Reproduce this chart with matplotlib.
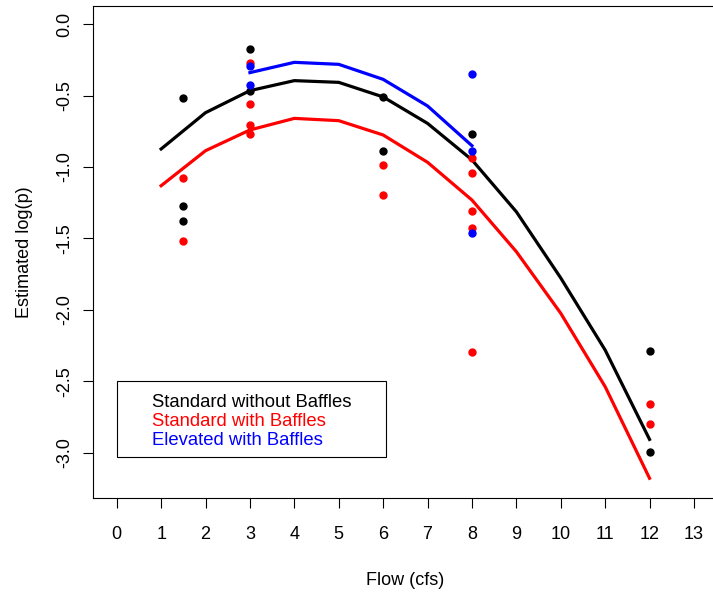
import matplotlib
matplotlib.use("Agg")
import matplotlib.pyplot as plt
from matplotlib.patches import Rectangle

plt.rcParams['font.family'] = ['Liberation Sans', 'DejaVu Sans']

# fitted curves
flow_fit = [1, 2, 3, 4, 5, 6, 7, 8, 9, 10, 11, 12]
fit_std_no = [-0.874, -0.62, -0.466, -0.396, -0.408, -0.51, -0.695, -0.95, -1.313, -1.776, -2.28, -2.905]
fit_std_baf = [-1.131, -0.886, -0.741, -0.66, -0.676, -0.776, -0.967, -1.231, -1.592, -2.023, -2.536, -3.177]
flow_fit_elev = [3, 4, 5, 6, 7, 8]
fit_elev_baf = [-0.34, -0.268, -0.282, -0.387, -0.573, -0.851]

# observed points
obs_std_no_x = [1.5, 1.5, 1.5, 3, 3, 6, 6, 8, 12, 12]
obs_std_no_y = [-0.52, -1.273, -1.38, -0.177, -0.466, -0.51, -0.886, -0.772, -2.29, -2.99]
obs_std_baf_x = [1.5, 1.5, 3, 3, 3, 3, 6, 6, 8, 8, 8, 8, 8, 12, 12]
obs_std_baf_y = [-1.075, -1.515, -0.275, -0.562, -0.709, -0.772, -0.988, -1.196,
                 -0.935, -1.044, -1.305, -1.424, -2.294, -2.655, -2.80]
obs_elev_x = [3, 3, 8, 8, 8]
obs_elev_y = [-0.294, -0.427, -0.352, -0.888, -1.464]

legend_labels = ["Standard without Baffles", "Standard with Baffles", "Elevated with Baffles"]
legend_colors = ["black", "red", "blue"]

fig = plt.figure(figsize=(7.13, 5.94), dpi=100)
ax = fig.add_axes([0.1309, 0.1621, 0.8735, 0.8278])

ax.plot(obs_std_no_x, obs_std_no_y, 'o', color='black', ms=5, zorder=3)
ax.plot(obs_std_baf_x, obs_std_baf_y, 'o', color='red', ms=5, zorder=3)
ax.plot(obs_elev_x, obs_elev_y, 'o', color='blue', ms=5, zorder=3)

ax.plot(flow_fit, fit_std_no, color='black', lw=2.3)
ax.plot(flow_fit, fit_std_baf, color='red', lw=2.3)
ax.plot(flow_fit_elev, fit_elev_baf, color='blue', lw=2.3)

ax.set_xlim(-0.527, 13.5)
ax.set_ylim(-3.313, 0.126)
ax.set_xticks(range(0, 14))
ax.set_yticks([0.0, -0.5, -1.0, -1.5, -2.0, -2.5, -3.0])
ax.set_yticklabels(["0.0", "-0.5", "-1.0", "-1.5", "-2.0", "-2.5", "-3.0"])

for s in ax.spines.values():
    s.set_linewidth(0.8)
ax.spines['right'].set_visible(False)

ax.tick_params(axis='both', direction='out', length=7.5, width=0.8, labelsize=13)
ax.tick_params(axis='x', pad=13)
ax.tick_params(axis='y', pad=7, labelrotation=90)
for lab in ax.get_yticklabels():
    lab.set_va('center')

ax.set_xlabel("Flow (cfs)", fontsize=13, labelpad=21)
ax.set_ylabel("Estimated log(p)", fontsize=13, labelpad=17)

# legend box
ax.add_patch(Rectangle((0.0376, 0.082), 0.4324, 0.156, transform=ax.transAxes,
                       fill=False, edgecolor='black', lw=0.8))
for i, (lab, col) in enumerate(zip(legend_labels, legend_colors)):
    ax.text(0.094, 0.193 - i * 0.0387, lab, color=col, fontsize=13.3,
            transform=ax.transAxes, va='center', ha='left')

fig.savefig("out.png", dpi=100)
